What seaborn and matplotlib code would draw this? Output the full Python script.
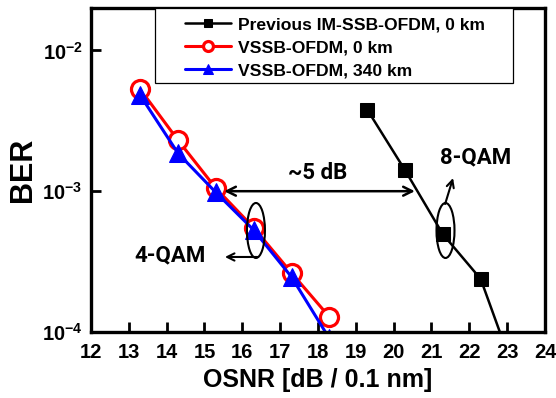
import numpy as np
import pandas as pd
import matplotlib
matplotlib.use("Agg")
import matplotlib.pyplot as plt
import seaborn as sns
from matplotlib.patches import Ellipse, Rectangle

# Data
prev_osnr = [19.3, 20.3, 21.3, 22.3, 23.3]
prev_ber = [3.8e-3, 1.41e-3, 4.95e-4, 2.38e-4, 4.3e-5]
v0_osnr = [13.3, 14.3, 15.3, 16.3, 17.3, 18.3]
v0_ber = [5.3e-3, 2.3e-3, 1.05e-3, 5.5e-4, 2.63e-4, 1.28e-4]
v340_osnr = [13.3, 14.3, 15.3, 16.3, 17.3, 18.3]
v340_ber = [4.8e-3, 1.86e-3, 9.8e-4, 5.3e-4, 2.46e-4, 9.0e-5]
labels = ["Previous IM-SSB-OFDM, 0 km", "VSSB-OFDM, 0 km", "VSSB-OFDM, 340 km"]
xticks = list(range(12, 25))
yticks = [1e-4, 1e-3, 1e-2]
ytick_labels = ["10$^{-4}$", "10$^{-3}$", "10$^{-2}$"]

sns.set_style("ticks")
plt.rcParams["font.family"] = ["Liberation Sans", "DejaVu Sans"]
plt.rcParams["font.weight"] = "bold"
plt.rcParams["mathtext.fontset"] = "custom"
plt.rcParams["mathtext.rm"] = "Liberation Sans:bold"
plt.rcParams["mathtext.it"] = "Liberation Sans:bold"
plt.rcParams["mathtext.bf"] = "Liberation Sans:bold"
for k in ["text.color", "axes.labelcolor", "xtick.color", "ytick.color", "axes.edgecolor"]:
    plt.rcParams[k] = "black"

fig = plt.figure(figsize=(5.56, 3.98), dpi=100)
ax = fig.add_axes([91/556, 1 - 332/398, 454/556, 324/398])

sns.lineplot(x=prev_osnr, y=prev_ber, ax=ax, color="black", marker="s",
             markersize=10.5, markeredgecolor="black", linewidth=1.8,
             label=labels[0])
sns.lineplot(x=v0_osnr, y=v0_ber, ax=ax, color="red", marker="o",
             markersize=13, markerfacecolor="white", markeredgecolor="red",
             markeredgewidth=2.3, linewidth=2.2, label=labels[1])
sns.lineplot(x=v340_osnr, y=v340_ber, ax=ax, color="blue", marker="^",
             markersize=13, markeredgecolor="blue", linewidth=2.2,
             label=labels[2])

ax.set_yscale("log")
ax.set_xlim(12, 24)
ax.set_ylim(1e-4, 2e-2)
ax.set_xticks(xticks)
ax.set_xticklabels([str(t) for t in xticks], fontsize=14.5, fontweight="bold")
ax.set_yticks(yticks)
ax.set_yticklabels(ytick_labels, fontsize=14.5, fontweight="bold")
ax.yaxis.set_minor_locator(matplotlib.ticker.NullLocator())
ax.tick_params(axis="x", direction="in", length=7, width=2, pad=8)
ax.tick_params(axis="y", direction="in", length=7, width=2, pad=6)
for s in ax.spines.values():
    s.set_linewidth(2.4)
    s.set_color("black")

ax.set_xlabel("OSNR [dB / 0.1 nm]", fontsize=18, fontweight="bold", labelpad=4)
ax.set_ylabel("BER", fontsize=22, fontweight="bold", labelpad=3)

# Legend: frame drawn as a rectangle, entries without frame
ax.add_patch(Rectangle((0.141, 0.7685), 0.9295 - 0.141, 1 - 0.7685,
                       transform=ax.transAxes, fill=True, facecolor="white",
                       edgecolor="black", lw=0.9, zorder=4))
leg = ax.legend(loc="upper left", bbox_to_anchor=((185 - 91)/454, (332 - 17)/324),
                borderaxespad=0, borderpad=0, frameon=False,
                prop={"weight": "bold", "size": 12.6}, handlelength=2.6,
                markerscale=0.55, labelspacing=0.45, handletextpad=0.4)
leg.set_zorder(5)

ann_font = ["Roboto", "DejaVu Sans"]

# Annotations
aw = dict(color="black", lw=1.8, shrinkA=0, shrinkB=0, mutation_scale=16)
ax.annotate("", xy=(15.52, 1.0e-3), xytext=(20.56, 1.0e-3),
            arrowprops=dict(arrowstyle="<->", **aw))
ax.text(18.0, 1.35e-3, "~5 dB", fontsize=16, fontweight="bold",
        family=ann_font, ha="center", va="center")

def data_to_axes(x, y):
    return ax.transAxes.inverted().transform(ax.transData.transform((x, y)))

for cx in (16.36, 21.37):
    c = data_to_axes(cx, 5.26e-4)
    ax.add_patch(Ellipse(c, 18/454, 55/324, transform=ax.transAxes,
                         fill=False, lw=1.5, color="black", zorder=6))

aw2 = dict(color="black", lw=1.5, shrinkA=0, shrinkB=0, mutation_scale=13)
ax.annotate("", xy=(15.54, 3.41e-4), xytext=(16.41, 3.41e-4),
            arrowprops=dict(arrowstyle="->", **aw2))
ax.text(14.08, 3.52e-4, "4-QAM", fontsize=16, fontweight="bold",
        family=ann_font, ha="center", va="center")

ax.annotate("", xy=(21.57, 1.24e-3), xytext=(21.36, 8.11e-4),
            arrowprops=dict(arrowstyle="->", **aw2))
ax.text(22.16, 1.75e-3, "8-QAM", fontsize=16, fontweight="bold",
        family=ann_font, ha="center", va="center")

fig.savefig("out.png", dpi=100)
